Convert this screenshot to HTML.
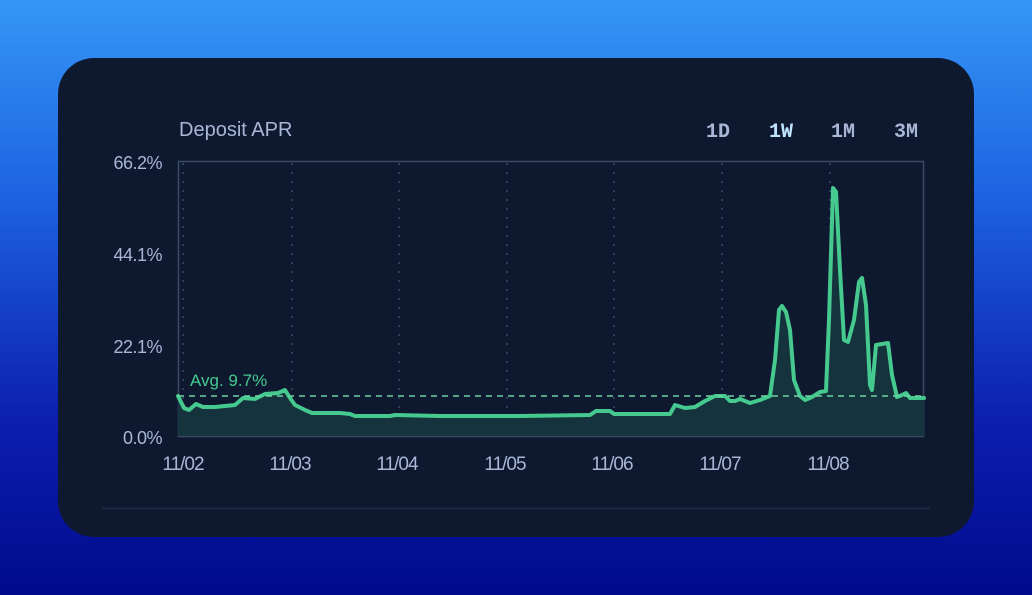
<!DOCTYPE html>
<html><head><meta charset="utf-8"><style>
html,body{margin:0;padding:0;width:1032px;height:595px;overflow:hidden}
body{background:linear-gradient(180deg,#3597f5 0%,#1c5fe0 35%,#0c1fb0 70%,#000b8c 100%);font-family:"Liberation Sans",sans-serif;position:relative}
.card{position:absolute;left:58px;top:58px;width:916px;height:479px;border-radius:36px;background:#0e1930}
svg{position:absolute;left:0;top:0}
</style></head><body>
<div class="card"></div>
<svg width="1032" height="595" viewBox="0 0 1032 595">
<text x="179" y="136" fill="#a9b6d6" font-size="20" font-family="Liberation Sans, sans-serif">Deposit APR</text>
<g font-family="Liberation Mono, monospace" font-size="20" font-weight="bold" fill="#a9b6d6">
<text x="706" y="137">1D</text>
<text x="769" y="137" fill="#bfe4ff">1W</text>
<text x="831" y="137">1M</text>
<text x="894" y="137">3M</text>
</g>
<g font-size="18" fill="#a9b6d6" text-anchor="end" letter-spacing="-0.5">
<text x="162" y="169">66.2%</text>
<text x="162" y="261">44.1%</text>
<text x="162" y="353">22.1%</text>
<text x="162" y="444">0.0%</text>
</g>
<g font-size="19" fill="#a9b6d6" text-anchor="middle" letter-spacing="-1">
<text x="183" y="470">11/02</text>
<text x="290" y="470">11/03</text>
<text x="397" y="470">11/04</text>
<text x="505" y="470">11/05</text>
<text x="612" y="470">11/06</text>
<text x="720" y="470">11/07</text>
<text x="828" y="470">11/08</text>
</g>
<g stroke="#3c4a66" stroke-width="1.5" stroke-dasharray="2 7">
<line x1="183" y1="163" x2="183" y2="436"/><line x1="292" y1="163" x2="292" y2="436"/>
<line x1="399" y1="163" x2="399" y2="436"/><line x1="507" y1="163" x2="507" y2="436"/>
<line x1="614" y1="163" x2="614" y2="436"/><line x1="722" y1="163" x2="722" y2="436"/>
<line x1="830" y1="163" x2="830" y2="436"/>
</g>
<rect x="178.5" y="161.5" width="745" height="275" fill="none" stroke="#3a4a60" stroke-width="1.5"/>
<path d="M178,396 L184,408 L189,410 L196,404 L203,407 L215,407 L235,405 L243,398 L255,399 L265,394 L278,393 L285,390 L290,398 L295,405 L305,410 L312,413 L340,413 L350,414 L355,416 L390,416 L395,415 L440,416 L520,416 L590,415 L596,411 L610,411 L614,414 L670,414 L675,405 L685,408 L695,407 L705,401 L715,396 L725,396 L730,401 L735,401 L740,399 L750,403 L760,400 L770,396 L775,360 L779,310 L782,306 L786,312 L790,330 L794,380 L800,396 L805,400 L812,397 L820,392 L826,391 L829,320 L833,188 L836,192 L840,270 L844,340 L848,342 L854,320 L859,282 L862,278 L866,305 L870,385 L872,390 L876,345 L888,343 L892,375 L897,397 L902,395 L906,393 L910,398 L924,398 L924,436 L178,436 Z" fill="#15363e" opacity="0.9"/>
<path d="M178,396 L184,408 L189,410 L196,404 L203,407 L215,407 L235,405 L243,398 L255,399 L265,394 L278,393 L285,390 L290,398 L295,405 L305,410 L312,413 L340,413 L350,414 L355,416 L390,416 L395,415 L440,416 L520,416 L590,415 L596,411 L610,411 L614,414 L670,414 L675,405 L685,408 L695,407 L705,401 L715,396 L725,396 L730,401 L735,401 L740,399 L750,403 L760,400 L770,396 L775,360 L779,310 L782,306 L786,312 L790,330 L794,380 L800,396 L805,400 L812,397 L820,392 L826,391 L829,320 L833,188 L836,192 L840,270 L844,340 L848,342 L854,320 L859,282 L862,278 L866,305 L870,385 L872,390 L876,345 L888,343 L892,375 L897,397 L902,395 L906,393 L910,398 L924,398" fill="none" stroke="#45c98e" stroke-width="4" stroke-linejoin="round" stroke-linecap="round"/>
<line x1="178" y1="396" x2="924" y2="396" stroke="#6ed3a4" stroke-width="1.5" stroke-dasharray="6 5"/>
<text x="190" y="386" fill="#45c98e" font-size="17">Avg. 9.7%</text>
<line x1="102" y1="508.5" x2="930" y2="508.5" stroke="#1f2b42" stroke-width="1.5"/>
</svg>
</body></html>
